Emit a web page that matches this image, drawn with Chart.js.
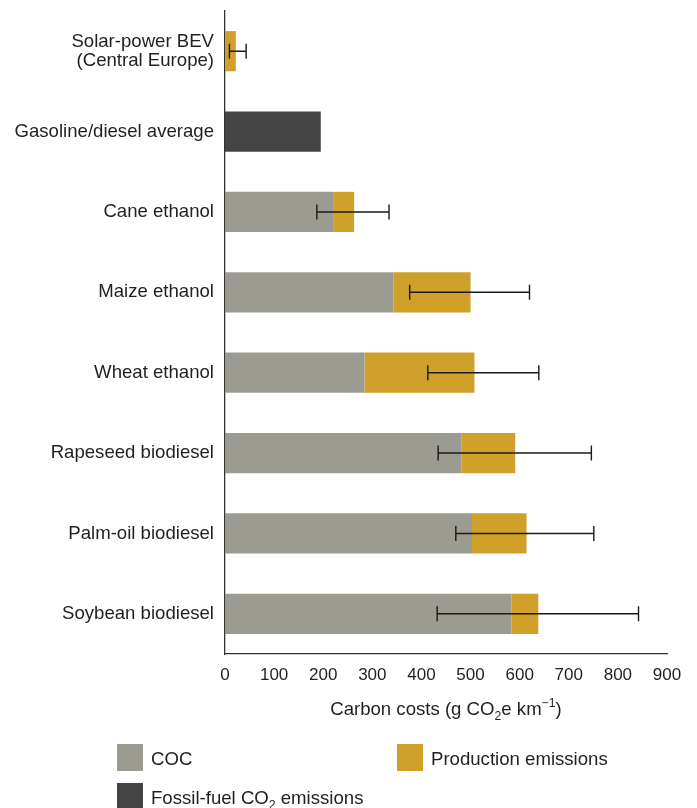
<!DOCTYPE html>
<html>
<head>
<meta charset="utf-8">
<script src="https://cdn.jsdelivr.net/npm/chart.js@4/dist/chart.umd.min.js"></script>
<style>
  html, body { margin: 0; padding: 0; background: #fff; }
  #wrap { width: 697px; height: 808px; position: relative; }
</style>
</head>
<body>
<div id="wrap"><canvas id="chart"></canvas></div>
<script>
// Carbon costs per km driven, by fuel pathway
const categories = [
  ['Solar-power BEV', '(Central Europe)'],
  'Gasoline/diesel average',
  'Cane ethanol',
  'Maize ethanol',
  'Wheat ethanol',
  'Rapeseed biodiesel',
  'Palm-oil biodiesel',
  'Soybean biodiesel'
];
const cocValues        = [0,    null, 220, 343, 284, 481, 503, 583];
const productionValues = [22,   null, 43,  157, 224, 110, 111, 55];
const fossilValues     = [null, 195,  null, null, null, null, null, null];
// uncertainty range of the total (low, high)
const errorLow  = [9,  null, 187, 376, 413, 434, 470, 432];
const errorHigh = [43, null, 334, 620, 639, 746, 751, 842];
const xTicks = [0, 100, 200, 300, 400, 500, 600, 700, 800, 900];

const COLORS = { coc: '#9c9b92', production: '#cfa02a', fossil: '#444444' };
const FONT = "'Liberation Sans', Arial, Helvetica, sans-serif";
const INK = '#231f20';
const TEXT_SIZE = 18.6;

// whiskers drawn from the error arrays through the chart's own scales
const errorBars = {
  id: 'errorBars',
  afterDatasetsDraw(chart) {
    const { ctx } = chart;
    const xs = chart.scales.x, ys = chart.scales.y;
    ctx.save();
    ctx.strokeStyle = '#1a1a1a';
    ctx.lineWidth = 1.4;
    categories.forEach((c, i) => {
      if (errorLow[i] == null) return;
      const y = ys.getPixelForValue(i);
      const x0 = xs.getPixelForValue(errorLow[i]);
      const x1 = xs.getPixelForValue(errorHigh[i]);
      ctx.beginPath();
      ctx.moveTo(x0, y); ctx.lineTo(x1, y);
      ctx.moveTo(x0, y - 7.5); ctx.lineTo(x0, y + 7.5);
      ctx.moveTo(x1, y - 7.5); ctx.lineTo(x1, y + 7.5);
      ctx.stroke();
    });
    ctx.restore();
  }
};

// draws a run of text pieces, some of them sub- or superscript
function richText(ctx, pieces, x, baseline, size, align) {
  const widths = pieces.map(p => {
    ctx.font = (p.sub || p.sup ? size * 0.66 : size) + 'px ' + FONT;
    return ctx.measureText(p.t).width;
  });
  const total = widths.reduce((a, b) => a + b, 0);
  let cx = align === 'center' ? x - total / 2 : x;
  pieces.forEach((p, k) => {
    ctx.font = (p.sub || p.sup ? size * 0.66 : size) + 'px ' + FONT;
    const dy = p.sub ? size * 0.28 : (p.sup ? -size * 0.42 : 0);
    ctx.fillText(p.t, cx, baseline + dy);
    cx += widths[k];
  });
}

// axis title and legend below the plot
const annotations = {
  id: 'annotations',
  afterDraw(chart) {
    const { ctx, chartArea } = chart;
    ctx.save();
    ctx.fillStyle = INK;
    ctx.textAlign = 'left';
    ctx.textBaseline = 'alphabetic';
    richText(ctx, [
      { t: 'Carbon costs (g CO' }, { t: '2', sub: true }, { t: 'e km' },
      { t: '\u22121', sup: true }, { t: ')' }
    ], (chartArea.left + chartArea.right) / 2, 715, TEXT_SIZE, 'center');

    const items = [
      { color: COLORS.coc, x: 117, y: 744, text: [{ t: 'COC' }] },
      { color: COLORS.production, x: 397, y: 744, text: [{ t: 'Production emissions' }] },
      { color: COLORS.fossil, x: 117, y: 783, text: [{ t: 'Fossil-fuel CO' }, { t: '2', sub: true }, { t: ' emissions' }] }
    ];
    items.forEach(it => {
      ctx.fillStyle = it.color;
      ctx.fillRect(it.x, it.y, 26, 27);
      ctx.fillStyle = INK;
      richText(ctx, it.text, it.x + 34, it.y + 20.5, TEXT_SIZE, 'left');
    });
    ctx.restore();
  }
};

new Chart(document.getElementById('chart'), {
  type: 'bar',
  data: {
    labels: categories,
    datasets: [
      { label: 'COC', data: cocValues, backgroundColor: COLORS.coc },
      { label: 'Production emissions', data: productionValues, backgroundColor: COLORS.production },
      { label: 'Fossil-fuel CO2 emissions', data: fossilValues, backgroundColor: COLORS.fossil }
    ]
  },
  options: {
    indexAxis: 'y',
    responsive: true,
    maintainAspectRatio: false,
    animation: false,
    layout: { padding: { top: 11, right: 30, bottom: 0, left: 0 } },
    datasets: { bar: { categoryPercentage: 1, barPercentage: 0.5, borderWidth: 0 } },
    plugins: { legend: { display: false }, tooltip: { enabled: false } },
    scales: {
      x: {
        stacked: true,
        min: 0, max: 900,
        afterBuildTicks(scale) { scale.ticks = xTicks.map(v => ({ value: v })); },
        afterFit(scale) { scale.height = 154; scale.paddingLeft = 0; scale.paddingRight = 0; },
        grid: { display: false, drawOnChartArea: false, drawTicks: true, tickLength: 5, tickColor: '#333', tickWidth: 1.3 },
        border: { display: true, color: '#333', width: 1.3 },
        ticks: { color: INK, font: { family: FONT, size: 17 }, padding: 6, maxRotation: 0 }
      },
      y: {
        stacked: true,
        afterFit(scale) { scale.width = 225; scale.paddingTop = 0; scale.paddingBottom = 0; },
        grid: { display: false, drawTicks: false },
        border: { display: true, color: '#333', width: 1.3 },
        ticks: { color: INK, font: { family: FONT, size: TEXT_SIZE, lineHeight: 1.02 }, padding: 11 }
      }
    }
  },
  plugins: [errorBars, annotations]
});
</script>
</body>
</html>
